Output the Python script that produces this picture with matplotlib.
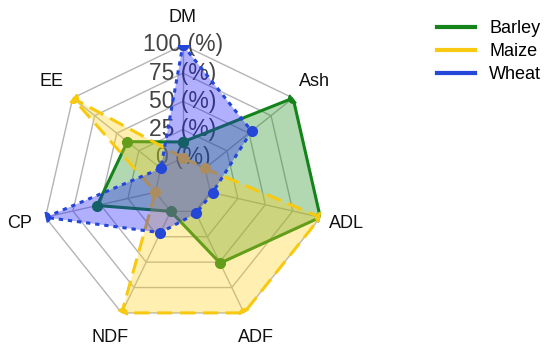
import numpy as np
from matplotlib import pyplot as plt
from matplotlib.lines import Line2D

plt.rcParams['font.family'] = ['Liberation Sans', 'DejaVu Sans']

categories = ['DM', 'Ash', 'ADL', 'ADF', 'NDF', 'CP', 'EE']
barley = [14, 100, 100, 51, 0, 53, 38]
maize = [0, 0, 100, 100, 100, 0, 100]
wheat = [100, 53, 2, 2, 21, 100, 0]
radial_ticks = [0, 25, 50, 75, 100]
radial_labels = ['0 (%)', '25 (%)', '50 (%)', '75 (%)', '100 (%)']

series = [
    ('Barley', barley, '#13831a', '#1f8f1f', '-'),
    ('Maize', maize, '#f7c910', '#ffd21a', (0, (5, 2.5))),
    ('Wheat', wheat, '#2447d8', '#1a1aff', (0, (1.4, 1.6))),
]

angles = np.linspace(0, 2 * np.pi, len(categories), endpoint=False)
closed = np.append(angles, angles[0])

fig = plt.figure(figsize=(5.5, 3.6), dpi=100)
ax = fig.add_axes([0.076, 0.092, 0.513, 0.783], projection='polar')
ax.set_theta_zero_location('N')
ax.set_theta_direction(-1)
ax.set_ylim(-25, 100)
ax.grid(False)
ax.spines['polar'].set_visible(False)
ax.set_xticks([])
ax.set_yticks([])

# heptagon grid
for r in radial_ticks:
    ax.plot(closed, [r] * len(closed), color='#b4b4b4', lw=1, zorder=1)
for a in angles:
    ax.plot([a, a], [0, 100], color='#b4b4b4', lw=1, zorder=1)

# radial labels sit under the filled areas
for r, lab in zip(radial_ticks, radial_labels):
    ax.text(0, r, lab, ha='center', va='center', fontsize=16.5, color='#444444', zorder=1.5)

for i, (name, vals, line_c, fill_c, ls) in enumerate(series):
    v = np.append(vals, vals[0])
    ax.fill(closed, v, color=fill_c, alpha=0.34, lw=0, zorder=2 + i)
    ax.plot(closed, v, color=line_c, lw=2.2, ls=ls, marker='o', ms=7, zorder=2 + i)

for a, lab in zip(angles, categories):
    ax.text(a, 124, lab, ha='center', va='center', fontsize=13, color='#111111', clip_on=False)

handles = [Line2D([0], [0], color=c, lw=3) for _, _, c, _, _ in series]
fig.legend(handles, [s[0] for s in series], loc='upper left', bbox_to_anchor=(0.765, 0.99),
           frameon=False, fontsize=13, handlelength=2.1, labelspacing=0.35)

fig.savefig('out.png', dpi=100)
